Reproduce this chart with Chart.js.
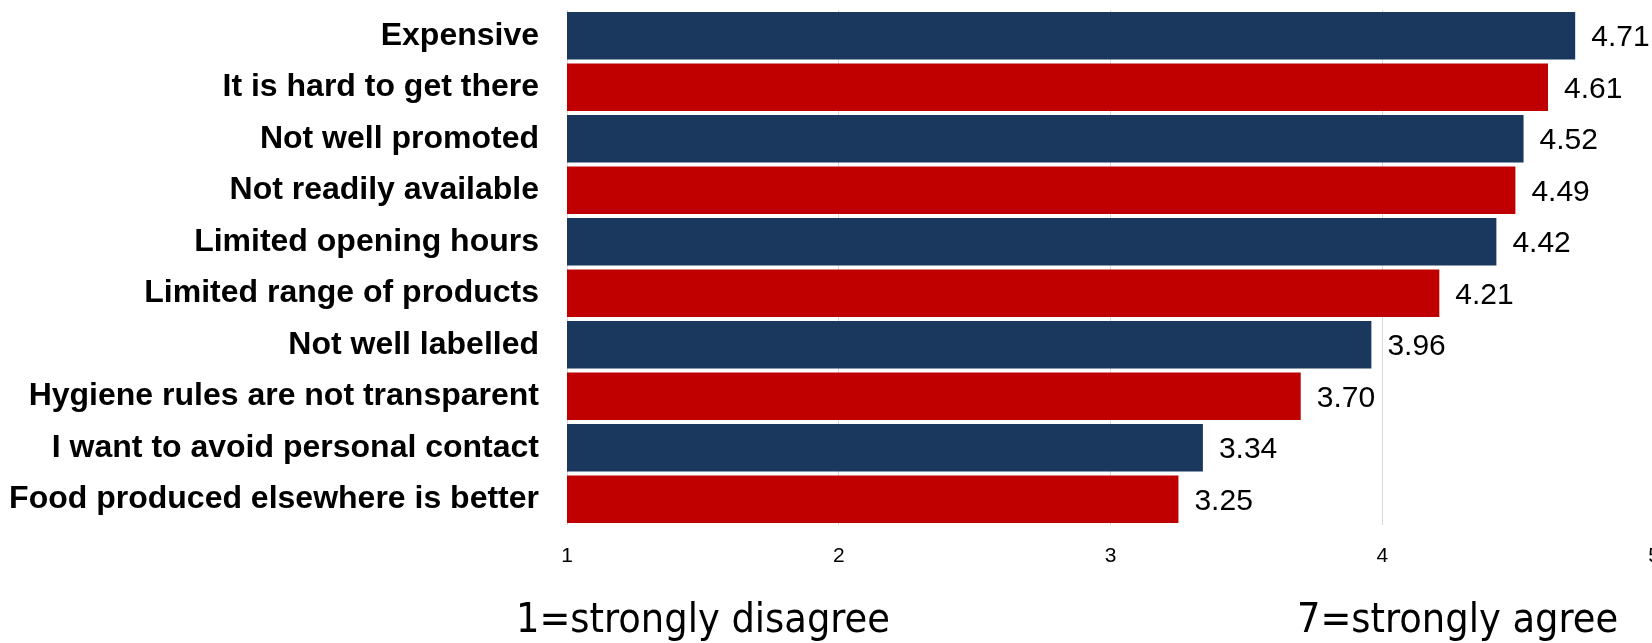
<!DOCTYPE html>
<html>
<head>
<meta charset="utf-8">
<script src="https://cdn.jsdelivr.net/npm/chart.js@4/dist/chart.umd.min.js"></script>
<style>
  html, body { margin: 0; padding: 0; background: #fff; overflow: hidden; }
  #wrap { position: relative; width: 1654px; height: 643px; }
  canvas { position: absolute; left: 0; top: 0; }
  .note { position: absolute; font-family: "DejaVu Sans Condensed", "DejaVu Sans", sans-serif; font-size: 41px; color: #000; line-height: 1; white-space: nowrap; }
</style>
</head>
<body>
<div id="wrap">
  <canvas id="c" width="1654" height="643"></canvas>
  <div class="note" id="n1" style="left:516px; top:598px;">1=strongly disagree</div>
  <div class="note" id="n2" style="left:1297px; top:598px;">7=strongly agree</div>
</div>
<script>
const categories = [
  "Expensive",
  "It is hard to get there",
  "Not well promoted",
  "Not readily available",
  "Limited opening hours",
  "Limited range of products",
  "Not well labelled",
  "Hygiene rules are not transparent",
  "I want to avoid personal contact",
  "Food produced elsewhere is better"
];
const values = [4.71, 4.61, 4.52, 4.49, 4.42, 4.21, 3.96, 3.70, 3.34, 3.25];
const tickValues = [1, 2, 3, 4, 5];
const barColors = ["#1a375e", "#c00000", "#1a375e", "#c00000", "#1a375e", "#c00000", "#1a375e", "#c00000", "#1a375e", "#c00000"];

const valueLabels = {
  id: 'valueLabels',
  afterDatasetsDraw(chart) {
    const ctx = chart.ctx;
    const meta = chart.getDatasetMeta(0);
    ctx.save();
    ctx.font = '30px "Liberation Sans", Arial, sans-serif';
    ctx.fillStyle = '#000';
    ctx.textAlign = 'left';
    ctx.textBaseline = 'alphabetic';
    meta.data.forEach((el, i) => {
      ctx.fillText(values[i].toFixed(2), el.x + 16, el.y + 10.7);
    });
    ctx.restore();
  }
};

new Chart(document.getElementById('c'), {
  type: 'bar',
  data: {
    labels: categories,
    datasets: [{
      data: values,
      backgroundColor: barColors,
      borderWidth: 0,
      categoryPercentage: 1,
      barPercentage: 0.925
    }]
  },
  options: {
    indexAxis: 'y',
    responsive: false,
    animation: false,
    layout: { padding: { top: 10, left: 0, right: 0, bottom: 0 } },
    plugins: { legend: { display: false }, tooltip: { enabled: false }, title: { display: false } },
    scales: {
      x: {
        type: 'linear',
        min: tickValues[0],
        max: tickValues[tickValues.length - 1],
        afterBuildTicks(scale) { scale.ticks = tickValues.map(v => ({ value: v })); },
        grid: { color: '#d9d9d9', lineWidth: 1, drawTicks: false },
        border: { display: false },
        ticks: {
          padding: 19,
          color: '#000',
          font: { family: '"Liberation Sans", Arial, sans-serif', size: 21 },
          maxRotation: 0
        },
        afterFit(scale) { scale.height = 118; scale.paddingLeft = 0; scale.paddingRight = 0; }
      },
      y: {
        grid: { display: false, drawTicks: false },
        border: { display: false },
        ticks: {
          padding: 28,
          color: '#000',
          font: { family: '"Liberation Sans", Arial, sans-serif', size: 32, weight: 'bold' }
        },
        afterFit(scale) { scale.width = 567; scale.paddingTop = 0; scale.paddingBottom = 0; }
      }
    }
  },
  plugins: [valueLabels]
});
</script>
</body>
</html>
